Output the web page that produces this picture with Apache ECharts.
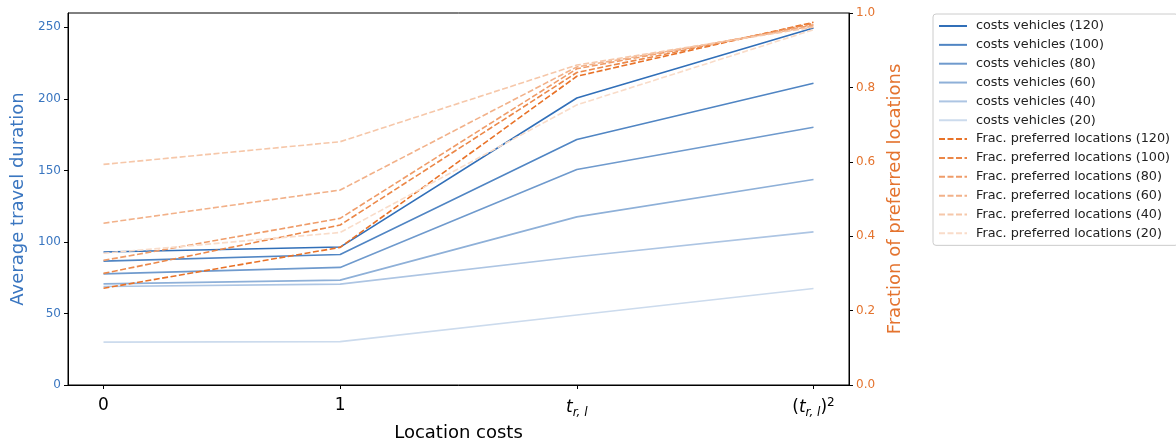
<!DOCTYPE html>
<html>
<head>
<meta charset="utf-8">
<script src="https://cdn.jsdelivr.net/npm/echarts@6/dist/echarts.min.js"></script>
<style>
  html, body { margin: 0; padding: 0; background: #fff; }
  #main { width: 1176px; height: 439px; }
</style>
</head>
<body>
<div id="main"></div>
<script>
// location cost levels on the x axis
var xPos = [0, 1, 2, 3];
var xLabels = ['0', '1', '{it|t}{sub|r, l}', '({it|t}{sub|r, l}){sup|2}'];

// vehicle cost levels (legend order)
var vehicleCosts = [120, 100, 80, 60, 40, 20];

// average travel duration, one row per vehicle cost
var travel120 = [93, 96.4, 200.6, 249.5];
var travel100 = [86.6, 91.2, 171.6, 210.9];
var travel80 = [77.7, 82.2, 150.6, 180.2];
var travel60 = [70.7, 73.3, 117.5, 143.6];
var travel40 = [68.8, 70.5, 89.6, 107];
var travel20 = [30, 30.3, 48.9, 67.5];

// fraction of preferred locations, one row per vehicle cost
var frac120 = [0.26, 0.37, 0.83, 0.975];
var frac100 = [0.30, 0.43, 0.84, 0.972];
var frac80 = [0.335, 0.448, 0.85, 0.968];
var frac60 = [0.435, 0.524, 0.855, 0.965];
var frac40 = [0.593, 0.654, 0.86, 0.962];
var frac20 = [0.354, 0.41, 0.753, 0.955];

var travelRows = [travel120, travel100, travel80, travel60, travel40, travel20];
var fracRows = [frac120, frac100, frac80, frac60, frac40, frac20];
var alphas = [1, 0.85, 0.7, 0.55, 0.4, 0.25];

var blue = [49, 111, 184];
var orange = [232, 114, 40];

function mix(c, a) {
    return 'rgb(' + c.map(function (v) { return Math.round(255 - a * (255 - v)); }).join(',') + ')';
}
function pairs(row) {
    return row.map(function (v, i) { return [xPos[i], v]; });
}

var series = [];
vehicleCosts.forEach(function (c, i) {
    series.push({
        name: 'costs vehicles (' + c + ')',
        type: 'line',
        yAxisIndex: 0,
        symbol: 'none',
        data: pairs(travelRows[i]),
        lineStyle: { color: mix(blue, alphas[i]), width: 1.6 },
        itemStyle: { color: mix(blue, alphas[i]) },
        z: 2
    });
});
vehicleCosts.forEach(function (c, i) {
    series.push({
        name: 'Frac. preferred locations (' + c + ')',
        type: 'line',
        yAxisIndex: 1,
        symbol: 'none',
        data: pairs(fracRows[i]),
        lineStyle: { color: mix(orange, alphas[i]), width: 1.6, type: [6, 2.5] },
        itemStyle: { color: mix(orange, alphas[i]) },
        z: 3
    });
});

var font = 'DejaVu Sans';
var blueText = '#3a76c0';
var orangeText = '#e4732e';

var myChart = echarts.init(document.getElementById('main'));

var option = {
    animation: false,
    textStyle: { fontFamily: font },
    grid: {
        left: 68, right: 327, top: 13, bottom: 54,
        outerBoundsMode: 'none',
        containLabel: false,
        show: true, borderColor: '#000', borderWidth: 1
    },
    legend: {
        orient: 'vertical',
        left: 933, top: 14,
        padding: [5, 8, 5, 5],
        itemWidth: 28, itemHeight: 10, itemGap: 4.85,
        itemStyle: { opacity: 0 },
        borderColor: '#cccccc', borderWidth: 1, borderRadius: 3,
        textStyle: { fontFamily: font, fontSize: 12.8, lineHeight: 14, color: '#222', padding: [0, 0, 0, 4] },
        data: series.map(function (s) { return s.name; })
    },
    xAxis: {
        type: 'value',
        min: -0.15, max: 3.15,
        name: 'Location costs',
        nameLocation: 'middle',
        nameGap: 36,
        nameTextStyle: { fontFamily: font, fontSize: 18, color: '#000' },
        axisLine: { show: true, onZero: false, lineStyle: { color: '#000' } },
        axisTick: { show: true, length: 4, lineStyle: { color: '#000' }, customValues: xPos },
        splitLine: { show: false },
        axisLabel: {
            customValues: xPos,
            margin: 12,
            fontSize: 17, color: '#000', fontFamily: font,
            formatter: function (v) { return xLabels[Math.round(v)]; },
            rich: {
                it: { fontSize: 17, fontStyle: 'italic', fontFamily: font, color: '#000' },
                sub: { fontSize: 12, fontStyle: 'italic', fontFamily: font, color: '#000', padding: [10, 0, 0, 0] },
                sup: { fontSize: 12, fontFamily: font, color: '#000', padding: [0, 0, 10, 0] }
            }
        }
    },
    yAxis: [{
        type: 'value',
        min: 0, max: 260,
        name: 'Average travel duration',
        nameLocation: 'middle',
        nameGap: 41,
        nameTextStyle: { fontFamily: font, fontSize: 18, color: blueText },
        axisLine: { show: true, onZero: false, lineStyle: { color: '#000' } },
        axisTick: { show: true, length: 4, lineStyle: { color: '#000' }, customValues: [0, 50, 100, 150, 200, 250] },
        axisLabel: { customValues: [0, 50, 100, 150, 200, 250], fontSize: 12, color: blueText, margin: 7 },
        splitLine: { show: false }
    }, {
        type: 'value',
        min: 0, max: 1, interval: 0.2,
        name: 'Fraction of preferred locations',
        nameLocation: 'middle',
        nameGap: 36,
        nameTextStyle: { fontFamily: font, fontSize: 18, color: orangeText },
        axisLine: { show: true, onZero: false, lineStyle: { color: '#000' } },
        axisTick: { show: true, length: 4, lineStyle: { color: '#000' } },
        axisLabel: { fontSize: 12, color: orangeText, margin: 7, formatter: function (v) { return v.toFixed(1); } },
        splitLine: { show: false }
    }],
    series: series
};

myChart.setOption(option);
</script>
</body>
</html>
